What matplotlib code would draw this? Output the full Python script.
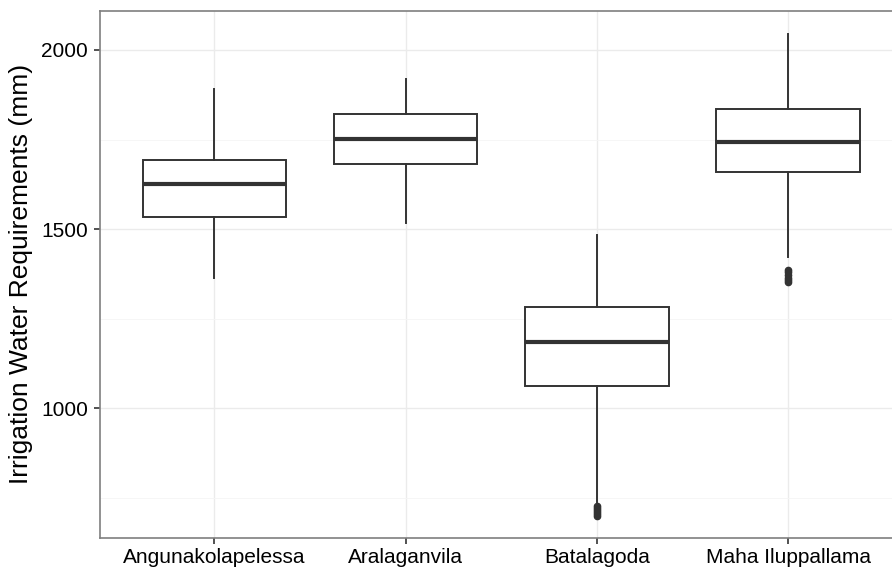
import matplotlib
matplotlib.use("Agg")
import matplotlib.pyplot as plt
from matplotlib.ticker import MultipleLocator

plt.rcParams['font.family'] = ['Liberation Sans', 'DejaVu Sans']

sites = ["Angunakolapelessa", "Aralaganvila", "Batalagoda", "Maha Iluppallama"]
whisker_low = [1365, 1518, 735, 1421]
q1 = [1535, 1682, 1062, 1658]
median = [1625, 1752, 1184, 1744]
q3 = [1692, 1821, 1284, 1834]
whisker_high = [1890, 1920, 1483, 2045]
outliers = [[], [], [700, 705, 710, 716, 722, 728], [1352, 1358, 1365, 1372, 1380, 1387]]

stats = []
for i, s in enumerate(sites):
    stats.append(dict(label=s, whislo=whisker_low[i], q1=q1[i], med=median[i],
                      q3=q3[i], whishi=whisker_high[i], fliers=outliers[i]))

fig = plt.figure(figsize=(8.92, 5.71), dpi=100)
ax = fig.add_axes([99.5 / 892, 1 - 537.7 / 571, (902.8 - 99.5) / 892, (537.7 - 10.5) / 571])

dark = "#333333"
ax.bxp(stats, positions=range(1, 5), widths=0.75, showcaps=False, patch_artist=True,
       boxprops=dict(facecolor="white", edgecolor=dark, linewidth=1.4),
       whiskerprops=dict(color=dark, linewidth=1.4),
       medianprops=dict(color=dark, linewidth=3.0),
       flierprops=dict(marker="o", markerfacecolor=dark, markeredgecolor=dark, markersize=4.5),
       zorder=3)

ax.set_xlim(0.4, 4.6)
ax.set_ylim(639, 2110)
ax.set_xticks(range(1, 5))
ax.set_xticklabels(sites)
ax.yaxis.set_major_locator(MultipleLocator(500))
ax.yaxis.set_minor_locator(MultipleLocator(250))
ax.set_yticks([1000, 1500, 2000])

ax.grid(True, which="major", color="#ebebeb", linewidth=1.0, zorder=0)
ax.grid(True, which="minor", axis="y", color="#f5f5f5", linewidth=0.6, zorder=0)
ax.set_axisbelow(True)

for sp in ax.spines.values():
    sp.set_color("#7f7f7f")
    sp.set_linewidth(1.2)

ax.tick_params(axis="both", which="major", length=4.2, width=1.2, color=dark,
               labelsize=15, labelcolor="black", pad=4)
ax.tick_params(axis="x", which="major", pad=3)
ax.tick_params(axis="y", which="minor", length=0)
ax.set_ylabel("Irrigation Water Requirements (mm)", fontsize=19, color="black", labelpad=6)

fig.savefig("out.png", dpi=100)
